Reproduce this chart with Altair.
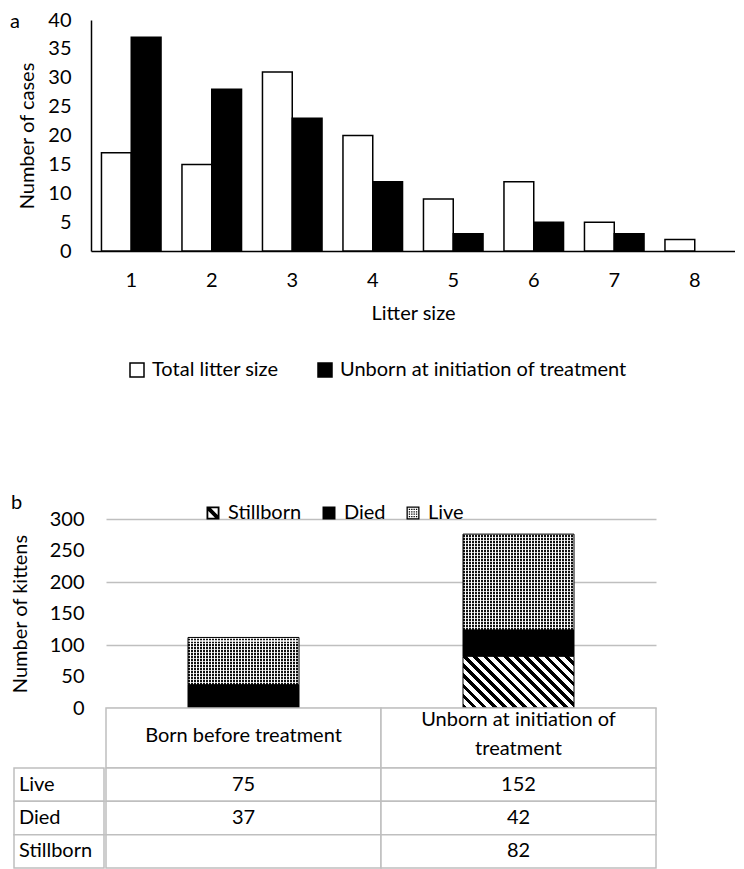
import math
import altair as alt
import pandas as pd

# ---------------- data ----------------
litter_sizes = ["1", "2", "3", "4", "5", "6", "7", "8"]
total_litter_size = [17, 15, 31, 20, 9, 12, 5, 2]
unborn_at_initiation = [37, 28, 23, 12, 3, 5, 3, 0]
series_a = ["Total litter size", "Unborn at initiation of treatment"]

groups_b = ["Born before treatment", "Unborn at initiation of treatment"]
group_headers = ["Born before treatment", "Unborn at initiation of\ntreatment"]
outcomes = ["Stillborn", "Died", "Live"]          # stacking order, bottom to top
live = [75, 152]
died = [37, 42]
stillborn = [None, 82]
table_rows = ["Live", "Died", "Stillborn"]

# ---------------- style ----------------
FONT = "Lato"
FS = 20
GRAY = "#bfbfbf"
YA_W, PA_W, PA_H = 77, 644, 231
YB_W, PB_W, PB_H = 90, 550, 189
HDR_H, BODY_H = 60, 100
BW = 111
YMAX_B = 300
LINE_H = 29

# ---------------- tables ----------------
rows_a = []
for s, vals in zip(series_a, [total_litter_size, unborn_at_initiation]):
    for l, v in zip(litter_sizes, vals):
        rows_a.append({"litter": l, "series": s, "value": v})
df_a = pd.DataFrame(rows_a)

vals_by_outcome = {"Stillborn": stillborn, "Died": died, "Live": live}
rows_b = []
for i, g in enumerate(groups_b):
    for j, o in enumerate(outcomes):
        rows_b.append({"group": g, "outcome": o, "order": j, "value": vals_by_outcome[o][i]})
df_b = pd.DataFrame(rows_b)

rows_t = []
for r in table_rows:
    for i, g in enumerate(groups_b):
        v = vals_by_outcome[r][i]
        rows_t.append({"row": r, "group": g, "label": "" if v is None else str(v)})
df_t = pd.DataFrame(rows_t)
df_h = pd.DataFrame({"group": groups_b, "header": group_headers,
                     "nlines": [h.count("\n") + 1 for h in group_headers]})
df_l = pd.DataFrame({"row": table_rows, "col": ["Outcome"] * len(table_rows)})


# ---------------- texture helpers (style only) ----------------
def stripe_stops(n, c1, c2, frac):
    stops = []
    for i in range(n):
        a, b, c = i / n, (i + frac) / n, (i + 1) / n
        stops += [{"offset": round(a, 5), "color": c1}, {"offset": round(b, 5), "color": c1},
                  {"offset": round(b, 5), "color": c2}, {"offset": round(c, 5), "color": c2}]
    return stops


def hatch_fill(seg_h, period=7.0, frac=0.45):
    k = seg_h / BW
    s = (1 + k) / (1 + k * k)
    n = max(1, round((BW + seg_h) / (math.sqrt(2) * period)))
    return {"gradient": "linear", "x1": 0, "y1": 1, "x2": round(s, 5), "y2": round(1 - s * k, 5),
            "stops": stripe_stops(n, "black", "white", frac)}


def vstripes(period=3.0):
    n = round(BW / period)
    return {"gradient": "linear", "x1": 0, "y1": 0, "x2": 1, "y2": 0,
            "stops": stripe_stops(n, "#111111", "white", 0.62)}


def hstripes(seg_h, period=3.0):
    n = max(1, round(seg_h / period))
    return {"gradient": "linear", "x1": 0, "y1": 0, "x2": 0, "y2": 1,
            "stops": stripe_stops(n, "rgba(255,255,255,0.75)", "rgba(255,255,255,0)", 0.38)}


def sq(x0, y0, x1, y1, rev=False):
    if rev:
        return f"M{x0},{y0}V{y1}H{x1}V{y0}Z"
    return f"M{x0},{y0}H{x1}V{y1}H{x0}Z"


P_DIED = sq(-1, -1, 1, 1)
P_STILL = (sq(-1, -1, 1, 1) + sq(-0.72, -0.72, 0.72, 0.72, rev=True)
           + "M-0.72,-0.72L-0.3,-0.72L0.72,0.3L0.72,0.72L0.3,0.72L-0.72,-0.3Z")
P_LIVE = sq(-1, -1, 1, 1) + sq(-0.8, -0.8, 0.8, 0.8, rev=True)
for cx in (-0.55, -0.18, 0.18, 0.55):
    for cy in (-0.55, -0.18, 0.18, 0.55):
        P_LIVE += sq(round(cx - 0.1, 3), round(cy - 0.1, 3), round(cx + 0.1, 3), round(cy + 0.1, 3))

# ---------------- panel a ----------------
ya_scale = alt.Scale(domain=[0, 40], nice=False)
ycol_a = alt.Chart(df_a).mark_point(opacity=0).encode(
    y=alt.Y("value:Q", scale=ya_scale,
            axis=alt.Axis(values=list(range(0, 41, 5)), offset=-YA_W, ticks=False, grid=False,
                          domain=True, domainColor="black", domainWidth=1.5,
                          labelPadding=20, title="Number of cases", titlePadding=10))
).properties(width=YA_W, height=PA_H,
             title=alt.TitleParams("a", anchor="start", frame="group", baseline="top",
                                   offset=0, dx=-4, dy=22))

plot_a = alt.Chart(df_a).transform_filter("datum.value > 0").mark_bar(
    stroke="black", strokeWidth=1.5
).encode(
    x=alt.X("litter:N", sort=litter_sizes,
            scale=alt.Scale(domain=litter_sizes, paddingInner=0.26, paddingOuter=0.13),
            axis=alt.Axis(title="Litter size", labelAngle=0, ticks=False, domainColor="black",
                          domainWidth=1.5, labelPadding=19, titlePadding=13)),
    xOffset=alt.XOffset("series:N", sort=series_a, scale=alt.Scale(domain=series_a)),
    y=alt.Y("value:Q", scale=ya_scale, axis=None),
    fill=alt.Fill("series:N", scale=alt.Scale(domain=series_a, range=["white", "black"]),
                  legend=alt.Legend(orient="none", legendX=36, legendY=340, direction="horizontal",
                                    title=None, symbolType="square", symbolSize=196,
                                    symbolStrokeColor="black", symbolStrokeWidth=1.5,
                                    labelOffset=5, columnPadding=36, labelLimit=0, padding=0)),
).properties(width=PA_W, height=PA_H)

row_a = alt.hconcat(ycol_a, plot_a, spacing=0, bounds="flush").resolve_scale(fill="independent")

# ---------------- panel b ----------------
yb_scale = alt.Scale(domain=[0, YMAX_B], nice=False)
xb = alt.X("group:N", sort=groups_b, scale=alt.Scale(domain=groups_b, paddingInner=0, paddingOuter=0),
           axis=None)

ycol_b = alt.Chart(df_b).mark_point(opacity=0).encode(
    y=alt.Y("value:Q", scale=yb_scale,
            axis=alt.Axis(values=list(range(0, 301, 50)), offset=-YB_W, ticks=False, grid=False,
                          domain=False, labelPadding=20, title="Number of kittens",
                          titlePadding=19))
).properties(width=YB_W, height=PB_H,
             title=alt.TitleParams("b", anchor="start", frame="group", baseline="top",
                                   offset=0, dx=-3, dy=4))

base_b = alt.Chart(df_b).transform_filter("isValid(datum.value) && datum.value > 0").transform_stack(
    stack="value", groupby=["group"], as_=["y0", "y1"], sort=[alt.SortField("order", "ascending")]
)
yb = alt.Y("y0:Q", scale=yb_scale,
           axis=alt.Axis(values=list(range(0, 301, 50)), grid=True, gridColor=GRAY, gridWidth=1.5,
                         labels=False, ticks=False, domain=False, title=None))
px_per = PB_H / YMAX_B

layers = [
    base_b.transform_filter("datum.outcome == 'Died'").mark_bar(
        width=BW, fill="black", stroke="black", strokeWidth=1).encode(x=xb, y=yb, y2="y1:Q"),
]
for i, g in enumerate(groups_b):
    if stillborn[i]:
        layers.append(
            base_b.transform_filter(f"datum.outcome == 'Stillborn' && datum.group == '{g}'").mark_bar(
                width=BW, fill=hatch_fill(stillborn[i] * px_per), stroke="black", strokeWidth=1
            ).encode(x=xb, y=yb, y2="y1:Q"))
    live_f = f"datum.outcome == 'Live' && datum.group == '{g}'"
    layers.append(base_b.transform_filter(live_f).mark_bar(width=BW, fill=vstripes()).encode(
        x=xb, y=yb, y2="y1:Q"))
    layers.append(base_b.transform_filter(live_f).mark_bar(
        width=BW, fill=hstripes(live[i] * px_per), stroke="black", strokeWidth=1).encode(
        x=xb, y=yb, y2="y1:Q"))

legend_layer = base_b.mark_point(filled=True, color="black", opacity=0).encode(
    x=xb, y=alt.Y("y1:Q", scale=yb_scale),
    shape=alt.Shape("outcome:N", scale=alt.Scale(domain=outcomes, range=[P_STILL, P_DIED, P_LIVE]),
                    legend=alt.Legend(orient="none", legendX=97, legendY=-16, direction="horizontal",
                                      title=None, symbolSize=169, symbolOpacity=1,
                                      symbolFillColor="black", symbolStrokeWidth=0,
                                      labelOffset=5, columnPadding=17, labelLimit=0, padding=0)),
)
bars_b = alt.layer(*layers, legend_layer).properties(width=PB_W, height=PB_H)

# ---------------- table ----------------
blank_h = alt.Chart(df_h).mark_rect(opacity=0).properties(width=YB_W, height=HDR_H)
hdr = alt.Chart(df_h)
hdr_text = []
for nl in sorted(set(df_h["nlines"])):
    hdr_text.append(
        hdr.transform_filter(f"datum.nlines == {nl}").mark_text(
            lineBreak="\n", lineHeight=LINE_H, fontSize=FS, font=FONT, color="black",
            dy=-(nl - 1) * LINE_H / 2 - (4 if nl > 1 else 2)
        ).encode(x=xb, text="header:N"))
header = alt.layer(
    hdr.mark_rect(fill="white", stroke=GRAY, strokeWidth=1.5).encode(x=xb),
    *hdr_text,
).properties(width=PB_W, height=HDR_H)

yt = alt.Y("row:N", sort=table_rows, scale=alt.Scale(domain=table_rows, paddingInner=0, paddingOuter=0),
           axis=None)
xl = alt.X("col:N", scale=alt.Scale(paddingInner=0, paddingOuter=0), axis=None)
label_col = alt.layer(
    alt.Chart(df_l).mark_rect(fill="white", stroke=GRAY, strokeWidth=1.5).encode(x=xl, y=yt),
    alt.Chart(df_l).mark_text(align="left", dx=5, fontSize=FS, font=FONT, color="black").encode(
        x=alt.X("col:N", scale=alt.Scale(paddingInner=0, paddingOuter=0), axis=None, bandPosition=0),
        y=yt, text="row:N"),
).properties(width=YB_W, height=BODY_H)
body = alt.layer(
    alt.Chart(df_t).mark_rect(fill="white", stroke=GRAY, strokeWidth=1.5).encode(x=xb, y=yt),
    alt.Chart(df_t).mark_text(fontSize=FS, font=FONT, color="black").encode(x=xb, y=yt, text="label:N"),
).properties(width=PB_W, height=BODY_H)

left_col = alt.vconcat(ycol_b, blank_h, label_col, spacing=0, bounds="flush")
right_col = alt.vconcat(bars_b, header, body, spacing=0, bounds="flush").resolve_scale(shape="independent")
panel_b = alt.hconcat(left_col, right_col, spacing=0).resolve_scale(shape="independent")

chart = alt.vconcat(row_a, panel_b, spacing=113).properties(
    padding={"top": 2, "left": 2, "right": 0, "bottom": 0}
).configure_view(
    stroke=None
).configure_axis(
    labelFont=FONT, titleFont=FONT, labelFontSize=FS, titleFontSize=FS, labelColor="black",
    titleColor="black", titleFontWeight="normal"
).configure_legend(
    labelFont=FONT, labelFontSize=FS, labelColor="black"
).configure_title(
    font=FONT, fontSize=FS, fontWeight="normal", color="black"
)

chart.save("out.html", embed_options={"renderer": "svg", "actions": False})
